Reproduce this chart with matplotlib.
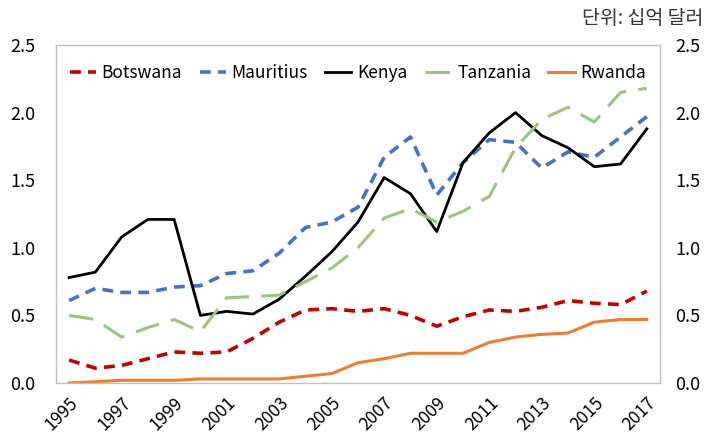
import matplotlib
matplotlib.use("Agg")
import matplotlib.pyplot as plt
import numpy as np

plt.rcParams['font.family'] = ['Noto Sans CJK KR', 'DejaVu Sans']

years = list(range(1995, 2018))
botswana = [0.17, 0.11, 0.13, 0.18, 0.23, 0.22, 0.23, 0.33, 0.45, 0.54, 0.55, 0.53,
            0.55, 0.50, 0.42, 0.49, 0.54, 0.53, 0.56, 0.61, 0.59, 0.58, 0.68]
mauritius = [0.61, 0.70, 0.67, 0.67, 0.71, 0.72, 0.81, 0.83, 0.96, 1.15, 1.19, 1.30,
             1.67, 1.82, 1.39, 1.63, 1.80, 1.78, 1.59, 1.71, 1.67, 1.82, 1.97]
kenya = [0.78, 0.82, 1.08, 1.21, 1.21, 0.50, 0.53, 0.51, 0.62, 0.79, 0.97, 1.19,
         1.52, 1.40, 1.12, 1.63, 1.85, 2.00, 1.83, 1.74, 1.60, 1.62, 1.88]
tanzania = [0.50, 0.47, 0.34, 0.41, 0.47, 0.38, 0.63, 0.64, 0.65, 0.75, 0.85, 1.00,
            1.22, 1.29, 1.19, 1.27, 1.38, 1.74, 1.95, 2.04, 1.93, 2.15, 2.18]
rwanda = [0.00, 0.01, 0.02, 0.02, 0.02, 0.03, 0.03, 0.03, 0.03, 0.05, 0.07, 0.15,
          0.18, 0.22, 0.22, 0.22, 0.30, 0.34, 0.36, 0.37, 0.45, 0.47, 0.47]
yticks = [0.0, 0.5, 1.0, 1.5, 2.0, 2.5]
unit_label = "단위: 십억 달러"

fig = plt.figure(figsize=(7.05, 4.4), dpi=100)
ax = fig.add_axes([0.0794, 0.1295, 0.8567, 0.7682])
x = np.arange(len(years))

ax.plot(x, botswana, color='#C00000', lw=2.6, dashes=(3, 2), label='Botswana')
ax.plot(x, mauritius, color='#4472C4', lw=2.6, dashes=(3, 2), label='Mauritius')
ax.plot(x, kenya, color='black', lw=2.0, label='Kenya')
ax.plot(x, tanzania, color='#9BC37E', lw=2.2, dashes=(8, 4), label='Tanzania')
ax.plot(x, rwanda, color='#ED7D31', lw=2.2, label='Rwanda')

ax.set_xlim(-0.5, len(years) - 0.5)
ax.set_ylim(0, 2.5)
ax.set_yticks(yticks)
ax.set_yticklabels([f"{v:.1f}" for v in yticks], fontsize=13)
ax.set_xticks(x[::2])
ax.set_xticklabels([str(y) for y in years[::2]], rotation=45, fontsize=12.5,
                   ha='right', va='top', rotation_mode='anchor')
ax.tick_params(axis='both', length=0)
ax.tick_params(axis='y', pad=15)
ax.tick_params(axis='x', pad=8)
for s in ax.spines.values():
    s.set_color('#BFBFBF')
    s.set_linewidth(1.0)

ax2 = ax.twinx()
ax2.set_ylim(0, 2.5)
ax2.set_yticks(yticks)
ax2.set_yticklabels([f"{v:.1f}" for v in yticks], fontsize=13)
ax2.tick_params(axis='y', length=0, pad=11)
for s in ax2.spines.values():
    s.set_visible(False)

leg = ax.legend(loc='upper center', bbox_to_anchor=(0.5, 0.99), ncol=5, frameon=False,
                fontsize=12.5, handlelength=1.5, handletextpad=0.35, columnspacing=1.0)

fig.text(0.997, 0.958, unit_label, ha='right', va='center', fontsize=14, color='#333333')

fig.savefig('out.png', dpi=100)
